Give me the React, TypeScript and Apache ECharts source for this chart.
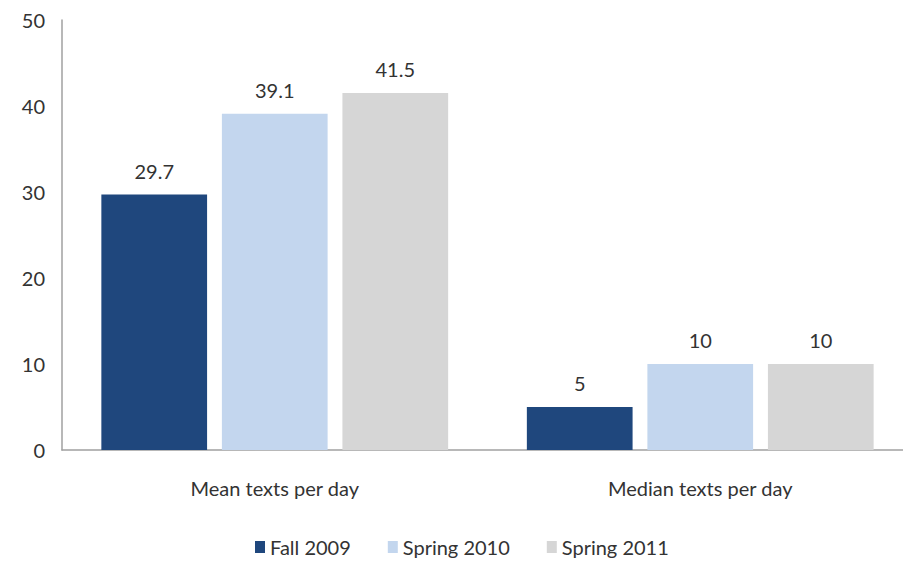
import React, { useEffect, useRef } from "react";
import * as echarts from "echarts";

const categories = ["Mean texts per day", "Median texts per day"];
const seriesNames = ["Fall 2009", "Spring 2010", "Spring 2011"];
const fall2009 = [29.7, 5];
const spring2010 = [39.1, 10];
const spring2011 = [41.5, 10];
const colors = ["#1f477d", "#c3d6ee", "#d6d6d6"];
const FONT = "Lato, 'Liberation Sans', sans-serif";

export default function App() {
  const ref = useRef<HTMLDivElement>(null);
  useEffect(() => {
    if (!ref.current) return;
    const chart = echarts.init(ref.current, null, { renderer: "svg" });
    const data = [fall2009, spring2010, spring2011];
    chart.setOption({
      animation: false,
      backgroundColor: "#ffffff",
      textStyle: { fontFamily: FONT },
      legend: {
        left: 255,
        top: 536,
        padding: 0,
        itemWidth: 10,
        itemHeight: 12,
        itemGap: 37,
        icon: "rect",
        textStyle: { fontSize: 20, color: "#333", fontFamily: FONT, lineHeight: 22 },
        data: seriesNames,
      },
      grid: {
        left: 62,
        top: 20,
        width: 851,
        height: 430,
        containLabel: false,
        outerBoundsMode: "none",
      },
      xAxis: {
        type: "category",
        data: categories,
        axisLine: { show: true, lineStyle: { color: "#a0a0a0", width: 1.5 } },
        axisTick: { show: false },
        axisLabel: { fontSize: 20, color: "#333", margin: 28, fontFamily: FONT },
      },
      yAxis: {
        type: "value",
        min: 0,
        max: 50,
        interval: 10,
        axisLine: { show: true, lineStyle: { color: "#a0a0a0", width: 1.5 } },
        axisTick: { show: false },
        splitLine: { show: false },
        axisLabel: { fontSize: 20, color: "#333", margin: 17, fontFamily: FONT },
      },
      series: seriesNames.map((name, i) => ({
        name,
        type: "bar",
        data: data[i],
        barGap: "14%",
        barCategoryGap: "18.5%",
        itemStyle: { color: colors[i] },
        label: {
          show: true,
          position: "top",
          distance: 14,
          fontSize: 20,
          color: "#333",
          fontFamily: FONT,
        },
      })),
    });
    return () => chart.dispose();
  }, []);
  return (
    <div
      ref={ref}
      style={{ position: "fixed", left: 0, top: 0, width: 903, height: 563 }}
    />
  );
}
